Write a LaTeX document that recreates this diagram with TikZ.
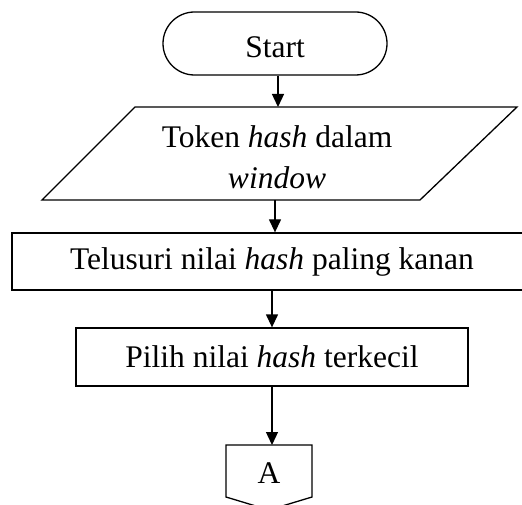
\documentclass[tikz,border=0pt]{standalone}
\usepackage{fontspec}
\setmainfont{Liberation Serif}
\usetikzlibrary{arrows.meta}
\begin{document}
\begin{tikzpicture}[x=1pt,y=-1pt,
  line width=1.3pt,
  every node/.style={font=\fontsize{31.5}{41}\selectfont},
  flow/.style={-{Triangle[length=13pt,width=12pt]}},
  procbox/.style={draw,rectangle,inner sep=0pt},
  label/.style={inner sep=0pt,align=center}]
  \useasboundingbox (0,0) rectangle (522,505);
  \clip (0,0) rectangle (522,505);

  % terminal
  \node[procbox,rounded corners=31.5pt,minimum width=224pt,minimum height=63pt,
        text height=29pt,text depth=0pt]
    (start) at (275,43.5) {Start};

  % input/output parallelogram
  \draw (135,107) -- (517,107) -- (420,200) -- (42,200) -- cycle;
  \node[label] (para) at (277,157) {Token \textit{hash} dalam\\\textit{window}};
  \coordinate (paraTop) at (278,107);
  \coordinate (paraBot) at (275,200);

  % process boxes
  \node[procbox,minimum width=520pt,minimum height=57pt]
    (trace) at (272,261.5) {Telusuri nilai \textit{hash} paling kanan};
  \node[procbox,minimum width=392pt,minimum height=58pt]
    (pick) at (272,357) {Pilih nilai \textit{hash} terkecil};

  % off-page connector
  \draw (226,445) -- (312,445) -- (312,497) -- (269,510) -- (226,497) -- cycle;
  \node[label] (conA) at (269,473) {A};
  \coordinate (conTop) at (272,445);

  % connectors
  \draw[flow] (start.south -| paraTop) -- (paraTop);
  \draw[flow] (paraBot) -- (trace.north -| paraBot);
  \draw[flow] (trace.south) -- (pick.north);
  \draw[flow] (pick.south) -- (conTop);
\end{tikzpicture}
\end{document}
